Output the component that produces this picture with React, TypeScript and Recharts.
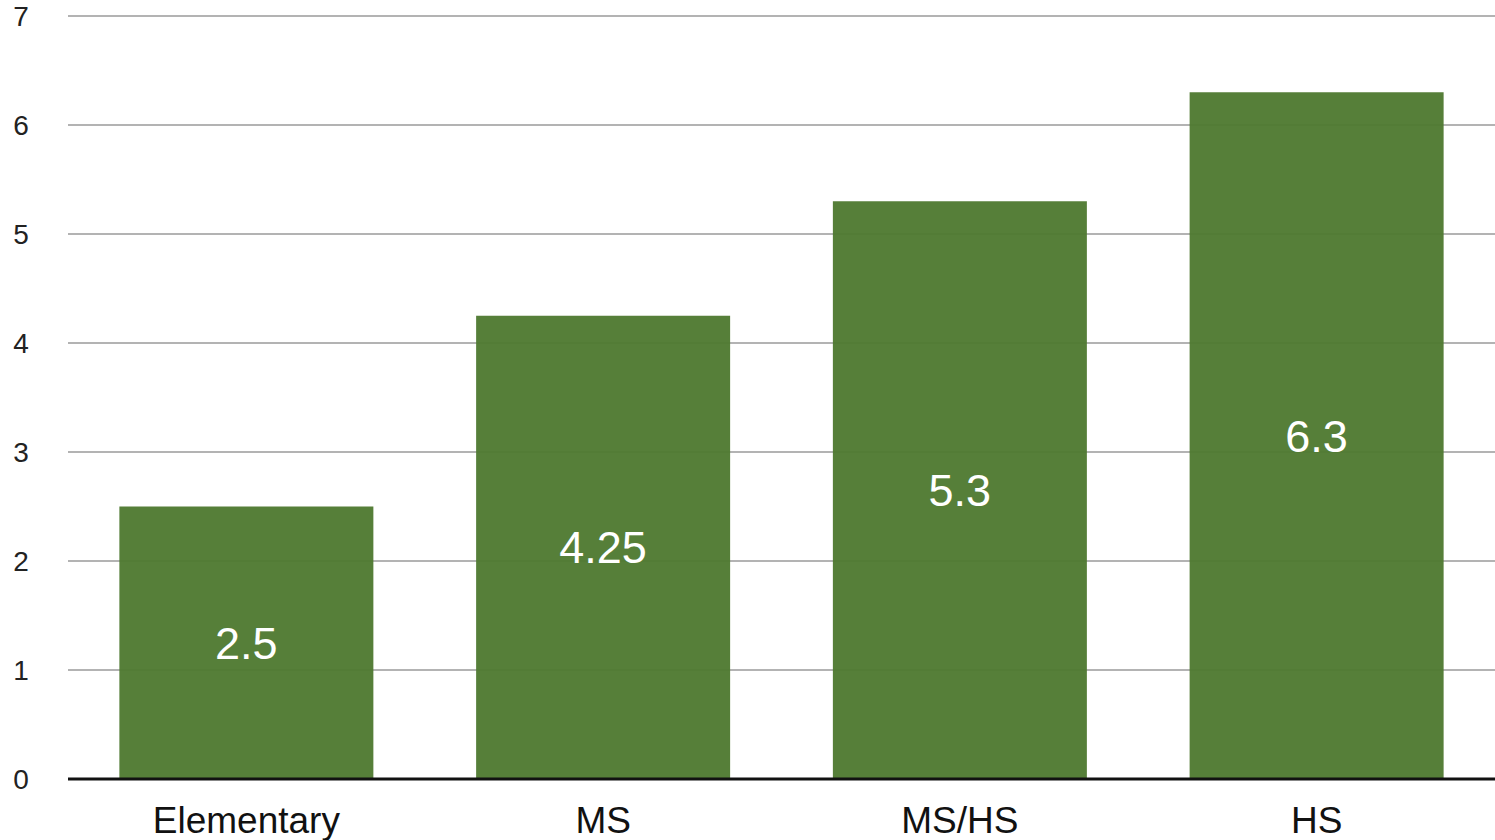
import { BarChart, Bar, XAxis, YAxis, CartesianGrid, LabelList } from "recharts";

const categories = ["Elementary", "MS", "MS/HS", "HS"];
const values = [2.5, 4.25, 5.3, 6.3];
const yTicks = [0, 1, 2, 3, 4, 5, 6, 7];

const data = categories.map((name, i) => ({ name, value: values[i] }));

const FONT = "'Liberation Sans', Arial, Helvetica, sans-serif";

const YTick = ({ x, y, payload }: any) => (
  <text x={x - 39} y={y} dy={10} textAnchor="middle" fontSize={28} fontFamily={FONT} fill="#222">
    {payload.value}
  </text>
);

export default function App() {
  return (
    <div style={{ position: "absolute", left: 0, top: 0, width: 1495, height: 840, background: "#fff" }}>
      <BarChart
        width={1495}
        height={840}
        data={data}
        margin={{ top: 16, right: 0, bottom: 0, left: 0 }}
        barCategoryGap="14.4%"
      >
        <CartesianGrid vertical={false} stroke="#b3b3b3" strokeWidth={2} />
        <YAxis
          width={68}
          domain={[0, 7]}
          ticks={yTicks}
          axisLine={false}
          tickLine={false}
          tick={<YTick />}
          interval={0}
        />
        <XAxis
          dataKey="name"
          height={61}
          axisLine={{ stroke: "#111", strokeWidth: 3 }}
          tickLine={false}
          tick={{ fontSize: 37, fontFamily: FONT, fill: "#111" }}
          tickMargin={22}
        />
        <Bar dataKey="value" fill="#4f7a31" fillOpacity={0.96} isAnimationActive={false}>
          <LabelList
            dataKey="value"
            position="center"
            fill="#fff"
            fontSize={45}
            fontFamily={FONT}
          />
        </Bar>
      </BarChart>
    </div>
  );
}
